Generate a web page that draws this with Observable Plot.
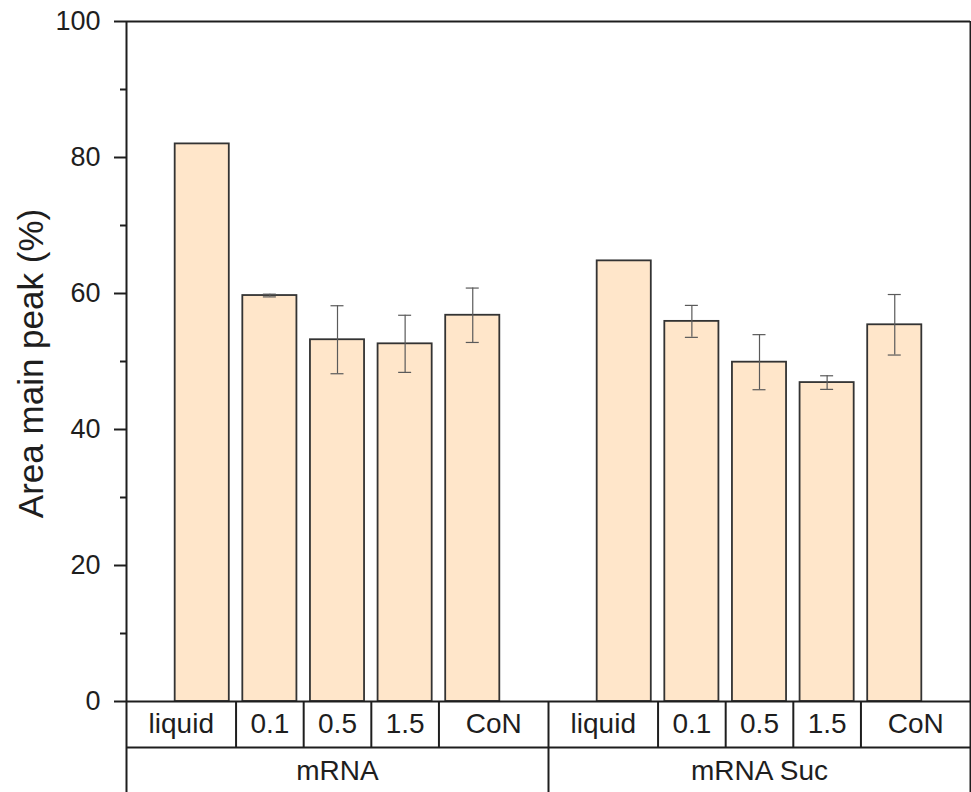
<!DOCTYPE html>
<html>
<head>
<meta charset="utf-8">
<script src="https://cdn.jsdelivr.net/npm/d3@7"></script>
<script src="https://cdn.jsdelivr.net/npm/@observablehq/plot@0.6"></script>
<style>
  html, body { margin: 0; padding: 0; background: #fff; }
  #chart { width: 971px; height: 792px; overflow: hidden; }
</style>
</head>
<body>
<div id="chart"></div>
<script>
// ---- data ----
const groups = ["mRNA", "mRNA Suc"];
const categories = ["liquid", "0.1", "0.5", "1.5", "CoN"];
const mRNAValues = [82.0, 59.7, 53.2, 52.6, 56.8];
const mRNAErrors = [0, 0.2, 5.0, 4.2, 4.0];
const sucValues = [64.8, 55.9, 49.9, 46.9, 55.4];
const sucErrors = [0, 2.35, 4.05, 1.0, 4.45];
const yMajorTicks = [0, 20, 40, 60, 80, 100];
const yMinorTicks = [10, 30, 50, 70, 90];
const yLabel = "Area main peak (%)";

const valuesByGroup = [mRNAValues, sucValues];
const errorsByGroup = [mRNAErrors, sucErrors];
const rows = groups.flatMap((g, gi) =>
  categories.map((c, i) => ({group: g, cat: c, value: valuesByGroup[gi][i], err: errorsByGroup[gi][i]}))
);
const errRows = rows.filter(d => d.err > 0);

// ---- layout ----
const W = 971, H = 792;
const mL = 126, mR = 1, mT = 21, mB = 91;
const pInner = 0.2, pOuter = 0.72;
const facetW = (W - mL - mR) / groups.length;
const step = facetW / (categories.length - pInner + 2 * pOuter);
const bandW = step * (1 - pInner);
const edgeOff = step * pOuter + bandW / 2;
const edgeLabelShift = (edgeOff - step / 2) / 2;
const pxPerUnit = (H - mT - mB) / 100;
const rowPx = 46;
const rowU = rowPx / pxPerUnit;

const ink = "#1e1e1e";
const lineW = 2;
const font = "'Liberation Sans', Arial, Helvetica, sans-serif";

const firstCat = categories[0], lastCat = categories[categories.length - 1];
const innerDividers = rows.filter(d => d.cat !== firstCat);
const leftEdges = groups.map(g => ({group: g, cat: firstCat}));
const rightEdges = [{group: groups[groups.length - 1], cat: lastCat}];
const firstLabels = rows.filter(d => d.cat === firstCat);
const lastLabels = rows.filter(d => d.cat === lastCat);
const midLabels = rows.filter(d => d.cat !== firstCat && d.cat !== lastCat);

const labelOpts = {fx: "group", x: "cat", frameAnchor: "bottom", lineAnchor: "middle", textAnchor: "middle", dy: 23, text: "cat", fontSize: 28, fill: ink};

const chart = Plot.plot({
  width: W,
  height: H,
  marginLeft: mL,
  marginRight: mR,
  marginTop: mT,
  marginBottom: mB,
  style: {fontFamily: font, background: "#fff", color: ink, overflow: "visible"},
  fx: {domain: groups, padding: 0, axis: null, round: false},
  x: {domain: categories, paddingInner: pInner, paddingOuter: pOuter, axis: null, round: false},
  y: {domain: [0, 100], axis: null},
  marks: [
    Plot.barY(rows, {fx: "group", x: "cat", y: "value", fill: "#FFE6CA", stroke: "#333", strokeWidth: 1.8}),
    Plot.ruleX(errRows, {fx: "group", x: "cat", y1: d => d.value - d.err, y2: d => d.value + d.err, stroke: "#5a5a5a", strokeWidth: 1.2}),
    Plot.tickY(errRows, {fx: "group", x: "cat", y: d => d.value + d.err, insetLeft: (bandW - 13) / 2, insetRight: (bandW - 13) / 2, stroke: "#5a5a5a", strokeWidth: 1.2}),
    Plot.tickY(errRows, {fx: "group", x: "cat", y: d => d.value - d.err, insetLeft: (bandW - 13) / 2, insetRight: (bandW - 13) / 2, stroke: "#5a5a5a", strokeWidth: 1.2}),
    // frame and table lines
    Plot.ruleY([100], {stroke: ink, strokeWidth: lineW}),
    Plot.ruleY([0], {stroke: ink, strokeWidth: lineW}),
    Plot.ruleY([-rowU], {stroke: ink, strokeWidth: lineW}),
    Plot.ruleX(innerDividers, {fx: "group", x: "cat", dx: -step / 2, y1: 0, y2: -rowU, stroke: ink, strokeWidth: lineW}),
    Plot.ruleX(leftEdges, {fx: "group", x: "cat", dx: -edgeOff, y1: d => d.group === groups[0] ? 100 : 0, y2: -2 * rowU, stroke: ink, strokeWidth: lineW}),
    Plot.ruleX(rightEdges, {fx: "group", x: "cat", dx: edgeOff, y1: 100, y2: -2 * rowU, stroke: ink, strokeWidth: lineW}),
    // y axis
    Plot.axisY({ticks: yMajorTicks, tickSize: 12, tickPadding: 14, fontSize: 27, stroke: ink, strokeWidth: lineW, label: null}),
    Plot.axisY({ticks: yMinorTicks, tickSize: 6, text: null, stroke: ink, strokeWidth: lineW, label: null}),
    Plot.text([yLabel], {fx: () => groups[0], frameAnchor: "left", textAnchor: "middle", lineAnchor: "middle", rotate: -90, dx: -95, dy: 2, fontSize: 35, text: d => d, fill: ink}),
    // table labels (centred in their cells)
    Plot.text(midLabels, labelOpts),
    Plot.text(firstLabels, {...labelOpts, dx: -edgeLabelShift}),
    Plot.text(lastLabels, {...labelOpts, dx: edgeLabelShift}),
    Plot.text(groups, {fx: d => d, frameAnchor: "bottom", lineAnchor: "middle", textAnchor: "middle", dy: 23 + rowPx + 1, text: d => d, fontSize: 28, fill: ink})
  ]
});
document.getElementById("chart").appendChild(chart);
</script>
</body>
</html>
